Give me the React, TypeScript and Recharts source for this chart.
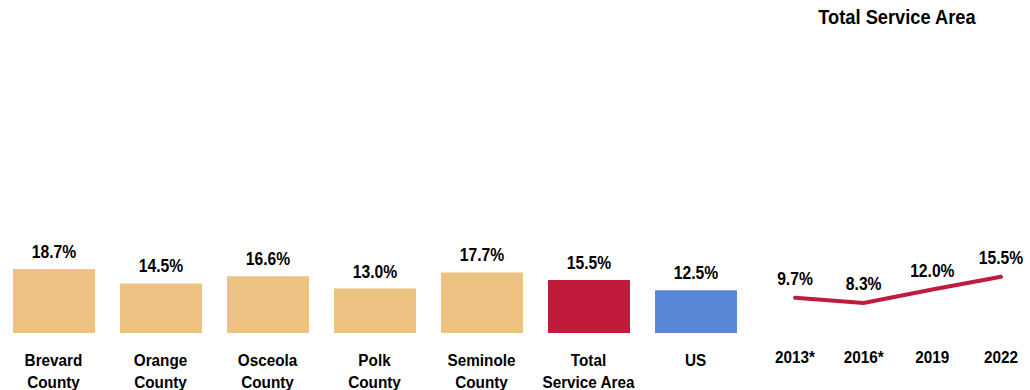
import { BarChart, Bar, LineChart, Line, XAxis, YAxis, LabelList, Cell } from "recharts";

const areas = ["Brevard County", "Orange County", "Osceola County", "Polk County", "Seminole County", "Total Service Area", "US"];
const areaValues = [18.7, 14.5, 16.6, 13.0, 17.7, 15.5, 12.5];
const areaColors = ["#EDC283", "#EDC283", "#EDC283", "#EDC283", "#EDC283", "#C01B3A", "#5B87D8"];

const years = ["2013*", "2016*", "2019", "2022"];
const trendValues = [9.7, 8.3, 12.0, 15.5];

// no Arial Narrow here, so squeeze Liberation Sans horizontally
const FONT = "'Liberation Sans', Arial, sans-serif";
const SQUEEZE = 0.87;

const barData = areas.map((name, i) => ({ name, value: areaValues[i] }));
const lineData = years.map((year, i) => ({ year, value: trendValues[i] }));

const pct = (v: any) => `${Number(v).toFixed(1)}%`;

/* eslint-disable @typescript-eslint/no-explicit-any */
function NarrowText({ x, y, size, squeeze = SQUEEZE, children }: any) {
  return (
    <text
      transform={`translate(${x},${y}) scale(${squeeze},1)`}
      textAnchor="middle"
      fontFamily={FONT}
      fontWeight={700}
      fontSize={size}
      fill="#000"
    >
      {children}
    </text>
  );
}

function AreaTick({ x, y, payload }: any) {
  const s = String(payload.value);
  const cut = s.indexOf(" ");
  const lines = cut < 0 ? [s] : [s.slice(0, cut), s.slice(cut + 1)];
  return (
    <g>
      {lines.map((l, i) => (
        <NarrowText key={i} x={x} y={y + 33 + i * 21.5} size={17} squeeze={0.9}>
          {l}
        </NarrowText>
      ))}
    </g>
  );
}

function YearTick({ x, y, payload }: any) {
  return (
    <NarrowText x={x} y={y + 30} size={17} squeeze={0.9}>
      {payload.value}
    </NarrowText>
  );
}

function BarValue({ x, y, width, value }: any) {
  return (
    <NarrowText x={x + width / 2} y={y - 11} size={18}>
      {pct(value)}
    </NarrowText>
  );
}

function PointValue({ x, y, value }: any) {
  return (
    <NarrowText x={x} y={y - 13} size={18}>
      {pct(value)}
    </NarrowText>
  );
}

export default function App() {
  return (
    <div style={{ position: "relative", width: 1030, height: 390, background: "#fff", overflow: "hidden" }}>
      <style>{`body{margin:0}`}</style>

      <div style={{ position: "absolute", left: 0, top: 0 }}>
        <BarChart width={750} height={390} data={barData} margin={{ top: 25, right: 1, bottom: 0, left: 0 }}>
          <XAxis
            dataKey="name"
            interval={0}
            height={57}
            tickLine={false}
            axisLine={false}
            tickSize={0}
            tickMargin={0}
            tick={<AreaTick />}
          />
          <YAxis hide domain={[0, 90]} />
          <Bar dataKey="value" barSize={82} isAnimationActive={false}>
            {barData.map((d, i) => (
              <Cell key={d.name} fill={areaColors[i]} />
            ))}
            <LabelList dataKey="value" content={<BarValue />} />
          </Bar>
        </BarChart>
      </div>

      <div
        style={{
          position: "absolute",
          left: 790,
          top: 5,
          width: 214,
          textAlign: "center",
          fontFamily: FONT,
          fontWeight: 700,
          fontSize: 21,
          color: "#000",
          transform: `scaleX(${SQUEEZE})`,
          transformOrigin: "center",
        }}
      >
        Total Service Area
      </div>

      <div style={{ position: "absolute", left: 740, top: 0 }}>
        <LineChart width={290} height={390} data={lineData} margin={{ top: 25, right: 0, bottom: 0, left: 0 }}>
          <XAxis
            dataKey="year"
            interval={0}
            height={57}
            tickLine={false}
            axisLine={false}
            tickSize={0}
            tickMargin={0}
            padding={{ left: 55, right: 29 }}
            tick={<YearTick />}
          />
          <YAxis hide domain={[0, 85]} />
          <Line
            dataKey="value"
            stroke="#C01B3A"
            strokeWidth={4}
            strokeLinecap="round"
            dot={false}
            isAnimationActive={false}
          >
            <LabelList dataKey="value" content={<PointValue />} />
          </Line>
        </LineChart>
      </div>
    </div>
  );
}
